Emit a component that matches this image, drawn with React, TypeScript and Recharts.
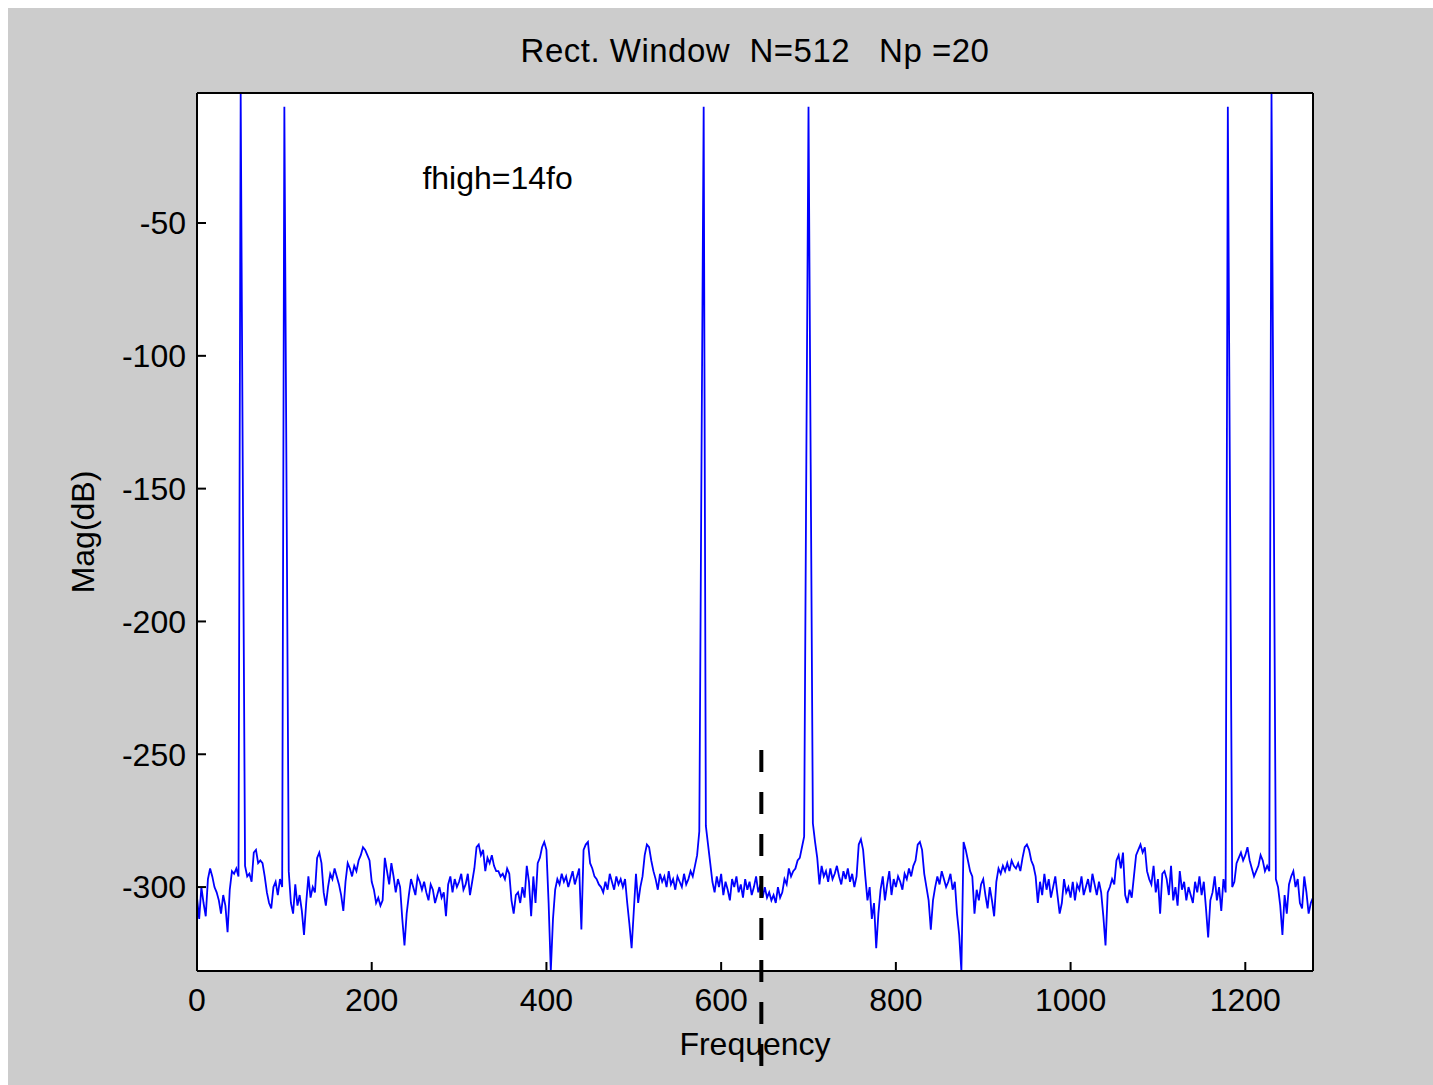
import { LineChart, Line, XAxis, YAxis, CartesianGrid, ReferenceLine, ReferenceDot } from 'recharts';

// magnitude spectrum, one value per FFT bin (N = 512, bin width 2.5)
const magDb = [
  -304, -312, -300, -306, -311, -297, -293, -296, -300, -302, -305, -310, -303, -307, -317, -301,
  -294, -295, -293, -296, -1.05, -150, -292, -296, -295, -298, -287, -286, -291, -290, -291, -296,
  -302, -306, -308, -300, -298, -303, -297, -300, -6.2, -150, -294, -306, -310, -299, -307, -303,
  -309, -318, -306, -296, -304, -300, -302, -289, -287, -291, -302, -307, -300, -295, -297, -293,
  -296, -299, -303, -309, -298, -291, -293, -296, -292, -294, -290, -288, -285, -286, -288, -290,
  -298, -301, -306, -304, -307, -305, -289, -294, -299, -291, -296, -302, -297, -300, -312, -322,
  -310, -303, -297, -300, -303, -296, -298, -301, -298, -302, -305, -299, -301, -306, -303, -300,
  -304, -302, -311, -299, -296, -302, -297, -300, -298, -295, -301, -299, -295, -303, -298, -293,
  -285, -284, -288, -286, -294, -289, -291, -288, -292, -294, -294, -296, -295, -297, -293, -295,
  -305, -310, -303, -302, -306, -300, -304, -292, -298, -311, -296, -306, -291, -289, -285, -283,
  -286, -306, -331.6, -312, -301, -297, -299, -295, -298, -296, -300, -297, -294, -299, -296, -293,
  -316, -286, -284, -283, -291, -293, -296, -297, -299, -300, -302, -298, -301, -295, -298, -301,
  -296, -299, -297, -300, -297, -306, -314, -323, -309, -295, -306, -300, -296, -288, -284, -285,
  -290, -294, -297, -301, -295, -298, -296, -300, -294, -299, -297, -301, -296, -298, -300, -295,
  -299, -297, -294, -296, -292, -288, -279, -139.7, -6.2, -277, -284, -291, -298, -302, -296, -300,
  -295, -303, -298, -301, -305, -297, -300, -296, -302, -299, -304, -297, -301, -298, -303, -300,
  -296, -302, -299, -304, -300, -304, -302, -305, -303, -306, -300, -304, -302, -297, -299, -293,
  -296, -294, -293, -290, -289, -285, -281, -139.7, -6.2, -141, -276, -283, -289, -299, -292, -296,
  -294, -298, -293, -297, -295, -292, -296, -299, -294, -297, -293, -298, -295, -300, -296, -284,
  -282, -286, -296, -305, -300, -312, -306, -323, -310, -301, -296, -305, -299, -294, -303, -297,
  -300, -296, -298, -301, -295, -297, -293, -296, -292, -290, -284, -283, -286, -295, -300, -305,
  -316, -305, -300, -296, -299, -294, -297, -300, -298, -295, -301, -298, -310, -318, -331.6, -283,
  -286, -290, -294, -296, -310, -301, -305, -299, -297, -303, -308, -300, -305, -311, -298, -293,
  -295, -292, -294, -291, -294, -290, -292, -293, -291, -294, -289, -285, -284, -286, -290, -292,
  -296, -306, -298, -303, -295, -301, -297, -304, -300, -296, -303, -310, -306, -297, -302, -300,
  -304, -298, -305, -299, -301, -296, -303, -300, -297, -302, -295, -299, -303, -298, -302, -311,
  -322, -302, -300, -297, -299, -290, -288, -293, -287, -303, -306, -301, -304, -296, -288, -286,
  -284, -287, -285, -294, -297, -299, -292, -302, -297, -310, -295, -294, -297, -303, -292, -305,
  -300, -307, -294, -301, -298, -305, -300, -303, -306, -298, -302, -296, -303, -298, -308, -319,
  -305, -302, -296, -305, -300, -309, -297, -302, -6.2, -154, -300, -298, -291, -289, -287, -290,
  -288, -285, -290, -293, -296, -294, -292, -288, -290, -294, -292, -294, -1.05, -147, -297, -300,
  -307, -318, -303, -310, -299, -296, -294, -300, -297, -306, -308, -296, -302, -310, -306, -304,
];
const binWidth = 2.5;

const xTicks = [0, 200, 400, 600, 800, 1000, 1200];
const yTicks = [-300, -250, -200, -150, -100, -50];
const xDomain = [0, 1277.5];
const yDomain = [-331.6, -1.05];

// dashed marker drawn over the figure
const markerFreq = 646;
const markerTop = -248.4;
const markerBottom = -368;

const data = magDb.map((mag, k) => ({ freq: k * binWidth, mag }));

const font = { fontFamily: '"Liberation Sans", Arial, sans-serif', fontSize: 32, fill: '#000' };

const App = () => {
  return (
    <div style={{ position: 'fixed', left: 8, top: 8, width: 1425, height: 1077, background: '#cccccc', overflow: 'hidden' }}>
      <div
        style={{
          position: 'absolute',
          top: 24,
          left: 189,
          width: 1116,
          textAlign: 'center',
          fontFamily: font.fontFamily,
          fontSize: 33,
          letterSpacing: 0.5,
          whiteSpace: 'pre',
          color: '#000',
        }}
      >
        {'Rect. Window  N=512   Np =20'}
      </div>
      <LineChart width={1425} height={1077} data={data} margin={{ top: 84, right: 119, bottom: 0, left: 0 }}>
        <CartesianGrid horizontal={false} vertical={false} fill="#ffffff" xAxisId="x" yAxisId="y" />
        <XAxis
          xAxisId="x"
          dataKey="freq"
          type="number"
          domain={xDomain}
          ticks={xTicks}
          allowDataOverflow
          height={114}
          tickSize={-9}
          tickMargin={26}
          stroke="#000"
          strokeWidth={2}
          tick={font}
          label={{ value: 'Frequency', position: 'insideBottom', offset: 30, style: font }}
        />
        <XAxis
          xAxisId="top"
          orientation="top"
          type="number"
          domain={xDomain}
          ticks={xTicks}
          allowDataOverflow
          height={1}
          tickSize={-9}
          tick={false}
          stroke="#000"
          strokeWidth={2}
        />
        <YAxis
          yAxisId="y"
          type="number"
          domain={yDomain}
          ticks={yTicks}
          allowDataOverflow
          width={189}
          tickSize={-9}
          tickMargin={20}
          stroke="#000"
          strokeWidth={2}
          tick={font}
          label={{ value: 'Mag(dB)', angle: -90, position: 'insideLeft', offset: 75, style: { ...font, textAnchor: 'middle' } }}
        />
        <YAxis
          yAxisId="right"
          orientation="right"
          type="number"
          domain={yDomain}
          ticks={yTicks}
          allowDataOverflow
          width={1}
          tickSize={-9}
          tick={false}
          stroke="#000"
          strokeWidth={2}
        />
        <Line
          xAxisId="x"
          yAxisId="y"
          type="linear"
          dataKey="mag"
          stroke="#0000ff"
          strokeWidth={1.8}
          dot={false}
          isAnimationActive={false}
        />
        <ReferenceDot
          xAxisId="x"
          yAxisId="y"
          x={258}
          y={-33}
          r={0}
          fill="none"
          stroke="none"
          label={{ value: 'fhigh=14fo', position: 'right', offset: 0, style: font }}
        />
        <ReferenceLine
          xAxisId="x"
          yAxisId="y"
          segment={[{ x: markerFreq, y: markerTop }, { x: markerFreq, y: markerBottom }]}
          ifOverflow="visible"
          stroke="#000"
          strokeWidth={4}
          strokeDasharray="22 20"
        />
      </LineChart>
    </div>
  );
};

export default App;
